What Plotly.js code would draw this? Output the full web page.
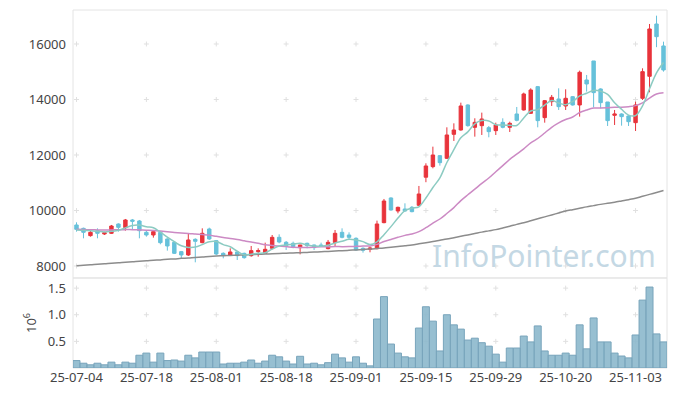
<!DOCTYPE html>
<html><head><meta charset="utf-8">
<script src="https://cdn.plot.ly/plotly-3.0.1.min.js"></script>
<style>html,body{margin:0;padding:0;background:#fff}#chart{width:677px;height:396px}</style>
</head><body><div id="chart"></div>
<script>
const dates = [
"25-07-04","25-07-07","25-07-08","25-07-09","25-07-10","25-07-11","25-07-14","25-07-15","25-07-16","25-07-17",
"25-07-18","25-07-21","25-07-22","25-07-23","25-07-24","25-07-25","25-07-28","25-07-29","25-07-30","25-07-31",
"25-08-01","25-08-04","25-08-05","25-08-06","25-08-07","25-08-08","25-08-11","25-08-12","25-08-13","25-08-14",
"25-08-18","25-08-19","25-08-20","25-08-21","25-08-22","25-08-25","25-08-26","25-08-27","25-08-28","25-08-29",
"25-09-01","25-09-02","25-09-03","25-09-04","25-09-05","25-09-08","25-09-09","25-09-10","25-09-11","25-09-12",
"25-09-15","25-09-16","25-09-17","25-09-18","25-09-19","25-09-22","25-09-23","25-09-24","25-09-25","25-09-26",
"25-09-29","25-09-30","25-10-01","25-10-02","25-10-10","25-10-13","25-10-14","25-10-15","25-10-16","25-10-17",
"25-10-20","25-10-21","25-10-22","25-10-23","25-10-24","25-10-27","25-10-28","25-10-29","25-10-30","25-10-31",
"25-11-03","25-11-04","25-11-05","25-11-06","25-11-07"];

const open = [9478,9357,9093,9273,9153,9177,9513,9381,9658,9622,
9213,9117,9213,8973,8853,8517,8396,8961,8841,9333,
8913,8456,8384,8505,8456,8372,8517,8456,8637,9033,
8853,8817,8661,8817,8757,8757,8625,8841,9213,9117,
8997,8637,8601,8625,9562,10451,9982,10054,10114,10186,
11199,11580,11976,11880,12745,12901,13802,12997,13057,12985,
12877,13177,12997,13478,13623,13502,14463,13346,13922,14018,
13766,14102,13802,14703,15388,14379,13910,13430,13478,13406,
13165,14042,14836,16721,15929];
const high = [9574,9381,9297,9357,9237,9478,9537,9694,9694,9658,
9297,9297,9261,8997,8877,8541,9177,8997,9357,9381,
8937,8493,8637,8517,8480,8721,8637,8841,9117,9141,
8901,8877,8757,8841,8769,8841,8937,9297,9357,9213,
9033,8673,8697,9634,10415,10475,10138,10258,10162,10884,
11700,12300,12000,12997,13141,13886,13826,13322,13526,13045,
13165,13322,13201,13730,14247,14403,14487,13982,14163,14403,
14367,14126,15040,14884,15388,14403,13910,13622,13502,13442,
13922,15124,16721,17021,16084];
const low = [9237,8997,9057,8997,9117,9153,9237,9273,9297,8997,
9057,9021,8781,8553,8432,8276,8360,8132,8817,8937,
8396,8276,8360,8216,8264,8336,8336,8432,8601,8817,
8577,8637,8420,8637,8577,8697,8601,8721,8997,8961,
8553,8481,8493,8601,9538,9994,9898,9958,9934,10162,
11019,11520,11616,11857,12505,12877,13021,12661,12721,12637,
12721,12961,12829,13214,13599,13478,12997,13165,13766,13622,
13622,13778,13382,14283,13718,13682,13045,13081,13057,13045,
12865,13982,14259,15885,15004];
const close = [9321,9213,9213,9177,9201,9441,9393,9658,9610,9273,
9117,9237,8841,8721,8456,8396,8937,8889,9177,8973,
8432,8384,8505,8372,8300,8553,8553,8601,9033,8865,
8733,8697,8757,8733,8661,8721,8853,9177,9033,9033,
8577,8565,8649,9514,10342,10018,10114,9982,9958,10595,
11604,12000,11724,12721,12901,13766,13057,13177,13298,12841,
13081,12997,13141,13250,14199,14343,13238,13958,14078,13742,
14042,13802,14980,14559,14247,13886,13238,13478,13382,13201,
13802,15004,16541,16264,15064];

const ma5 = [9300,9290,9270,9250,9225,9249,9285,9374,9461,9475,
9410,9379,9216,9038,8874,8730,8670,8680,8771,8874,
8882,8771,8694,8533,8399,8423,8457,8476,8608,8721,
8757,8786,8817,8757,8716,8714,8745,8829,8889,8963,
8935,8877,8771,8868,9129,9418,9727,9994,10083,10133,
10451,10828,11176,11729,12190,12622,12834,13124,13240,13228,
13091,13079,13072,13062,13334,13586,13634,13798,13963,13872,
13812,13924,14129,14225,14326,14295,14182,13882,13646,13437,
13420,13773,14386,14962,15335];
const ma20 = [9320,9315,9305,9300,9295,9300,9305,9310,9310,9300,
9290,9280,9260,9235,9210,9190,9175,9155,9135,9112,
9068,9026,8991,8951,8906,8861,8819,8766,8738,8717,
8698,8671,8667,8667,8678,8694,8690,8704,8697,8700,
8707,8716,8723,8780,8883,8956,9034,9103,9149,9236,
9379,9544,9693,9892,10104,10356,10567,10767,10980,11170,
11395,11617,11842,12028,12221,12437,12594,12792,12998,13156,
13278,13368,13531,13623,13690,13696,13705,13720,13724,13742,
13778,13879,14049,14199,14242];
const ma120 = [8010,8030,8045,8065,8080,8100,8115,8135,8150,8170,
8185,8205,8220,8240,8255,8275,8290,8310,8325,8345,
8360,8370,8380,8390,8400,8410,8420,8430,8440,8450,
8460,8470,8480,8490,8500,8515,8525,8540,8550,8565,
8580,8595,8610,8630,8650,8675,8700,8730,8760,8800,
8840,8880,8925,8970,9020,9070,9120,9170,9220,9265,
9310,9370,9430,9500,9560,9630,9700,9770,9840,9910,
9980,10030,10080,10130,10175,10220,10260,10300,10345,10390,
10440,10510,10580,10650,10720];

// volume in millions of shares
const volume = [0.14,0.09,0.06,0.09,0.06,0.11,0.06,0.11,0.09,0.24,
0.28,0.11,0.28,0.14,0.15,0.13,0.24,0.19,0.30,0.30,
0.30,0.075,0.09,0.09,0.11,0.15,0.09,0.13,0.24,0.21,
0.13,0.075,0.22,0.075,0.09,0.06,0.10,0.26,0.19,0.11,
0.21,0.09,0.04,0.92,1.34,0.45,0.28,0.21,0.19,0.75,
1.15,0.88,0.32,1.00,0.81,0.73,0.525,0.56,0.475,0.41,
0.26,0.11,0.375,0.375,0.60,0.49,0.79,0.32,0.24,0.24,
0.28,0.24,0.81,0.36,0.94,0.49,0.49,0.28,0.225,0.19,
0.62,1.275,1.52,0.64,0.49];

const xTickDates = ["25-07-04","25-07-18","25-08-01","25-08-18","25-09-01","25-09-15","25-09-29","25-10-20","25-11-03"];
const priceTicks = [8000,10000,12000,14000,16000];
const volTicks = [0.5,1.0,1.5];

const FONT = 'Noto Sans, sans-serif';
const split = 0.2514;

// faint grid crosses at tick intersections, drawn beneath the marks
const gridShapes = [];
function addCross(xr, yr, xv, yv){
  const st = {color:'#e0e0e0',width:1};
  gridShapes.push({type:'line',xref:xr,yref:yr,xsizemode:'pixel',xanchor:xv,x0:-2.5,x1:2.5,y0:yv,y1:yv,line:st,layer:'below'});
  gridShapes.push({type:'line',xref:xr,yref:yr,ysizemode:'pixel',yanchor:yv,y0:-2.5,y1:2.5,x0:xv,x1:xv,line:st,layer:'below'});
}
xTickDates.forEach(d=>{
  priceTicks.forEach(p=>addCross('x2','y2',d,p));
  volTicks.forEach(v=>addCross('x','y',d,v));
});

const traces = [
 {type:'bar',x:dates,y:volume,xaxis:'x',yaxis:'y',marker:{color:'rgba(140,184,204,0.9)',line:{color:'#78a4bb',width:1}},hoverinfo:'skip',showlegend:false},
 {type:'scatter',mode:'lines',x:dates,y:ma120,xaxis:'x2',yaxis:'y2',line:{color:'#8c8c8c',width:1.5,shape:'spline'},hoverinfo:'skip',showlegend:false},
 {type:'scatter',mode:'lines',x:dates,y:ma20,xaxis:'x2',yaxis:'y2',line:{color:'#cc8ac4',width:1.5,shape:'spline'},hoverinfo:'skip',showlegend:false},
 {type:'scatter',mode:'lines',x:dates,y:ma5,xaxis:'x2',yaxis:'y2',line:{color:'#8ccbc2',width:1.5,shape:'spline'},hoverinfo:'skip',showlegend:false},
 {type:'candlestick',x:dates,open:open,high:high,low:low,close:close,xaxis:'x2',yaxis:'y2',whiskerwidth:0,
  increasing:{line:{color:'#e8333b',width:1},fillcolor:'#e8333b'},
  decreasing:{line:{color:'#66c1da',width:1},fillcolor:'#66c1da'},
  hoverinfo:'skip',showlegend:false}
];

const axFont = {family:FONT,size:13,color:'#444'};
const layout = {
 width:677,height:396,
 margin:{l:73,r:10,t:10,b:28,pad:0},
 paper_bgcolor:'#fff',plot_bgcolor:'#fff',
 font:{family:FONT,size:13,color:'#444'},
 showlegend:false,bargap:0,
 xaxis:{type:'category',categoryorder:'array',categoryarray:dates,range:[-0.5,dates.length-0.5],
   tickmode:'array',tickvals:xTickDates,ticks:'',showgrid:false,zeroline:false,showline:false,
   tickfont:axFont,anchor:'y',domain:[0,1],rangeslider:{visible:false},fixedrange:true},
 xaxis2:{type:'category',matches:'x',anchor:'y2',showticklabels:false,ticks:'',showgrid:false,zeroline:false,
   showline:false,rangeslider:{visible:false},fixedrange:true},
 yaxis:{domain:[0,split],range:[0,1.69],tickmode:'array',tickvals:volTicks,tickformat:'.1f',ticks:'',
   showgrid:false,zeroline:false,showline:false,tickfont:axFont,ticklabelstandoff:6,
   title:{text:'10<sup>6</sup>',font:{family:FONT,size:13,color:'#444'},standoff:8}},
 yaxis2:{domain:[split,1],range:[7567,17225],tickmode:'array',tickvals:priceTicks,tickformat:'d',ticks:'',
   showgrid:false,zeroline:false,showline:false,tickfont:axFont,ticklabelstandoff:6,anchor:'x2'},
 shapes:[
  {type:'rect',xref:'paper',yref:'paper',x0:0,x1:1,y0:split,y1:1,line:{color:'#e4e4e4',width:1},layer:'below'},
  {type:'rect',xref:'paper',yref:'paper',x0:0,x1:1,y0:0,y1:split,line:{color:'#e4e4e4',width:1},layer:'below'}
 ].concat(gridShapes),
 annotations:[
  {xref:'paper',yref:'paper',x:0.985,y:0.313,xanchor:'right',yanchor:'middle',showarrow:false,
   text:'InfoPointer.com',font:{family:FONT,size:30,color:'rgb(196,216,228)'}}
 ]
};
Plotly.newPlot('chart',traces,layout,{staticPlot:true,displayModeBar:false});
</script></body></html>
